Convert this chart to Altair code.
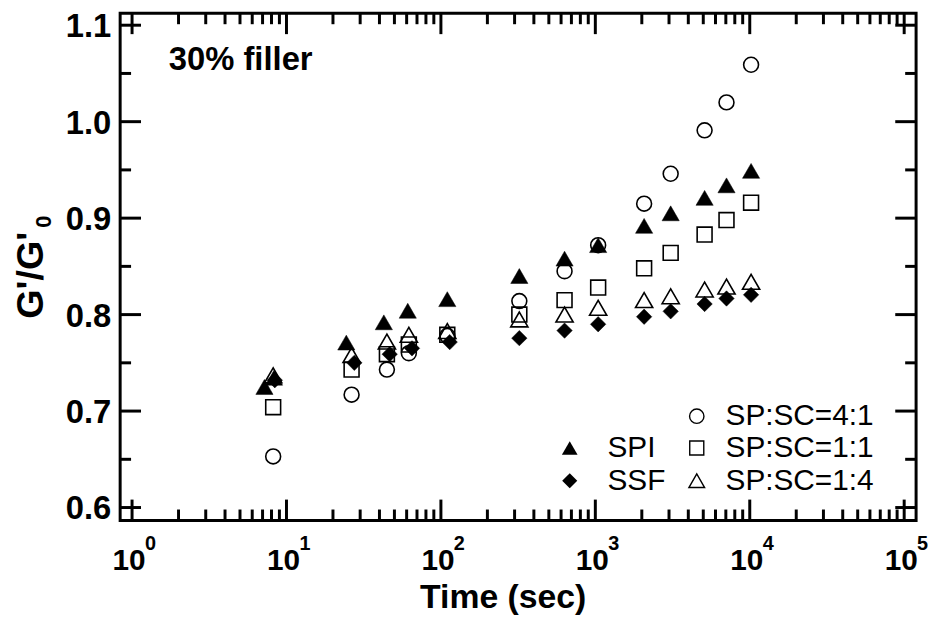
import altair as alt
import pandas as pd

# ---- data ----
spi_t = [7.2, 8.3, 24.4, 42.7, 61, 110, 322, 632, 1043, 2070, 3075, 5100, 7070, 10200]
spi_v = [0.725, 0.7345, 0.771, 0.792, 0.804, 0.816, 0.840, 0.858, 0.872, 0.892, 0.905, 0.921, 0.934, 0.949]

ssf_t = [8.4, 27.5, 46.6, 65, 114, 322, 632, 1043, 2070, 3075, 5100, 7070, 10200]
ssf_v = [0.732, 0.750, 0.759, 0.765, 0.7715, 0.7756, 0.7834, 0.790, 0.7978, 0.8034, 0.811, 0.8167, 0.8205]

sc41_t = [8.2, 26.4, 44.7, 62, 110, 322, 632, 1043, 2070, 3075, 5100, 7070, 10200]
sc41_v = [0.653, 0.717, 0.743, 0.760, 0.778, 0.814, 0.845, 0.872, 0.915, 0.946, 0.991, 1.020, 1.059]

sc11_t = [8.2, 26.4, 44.7, 62, 110, 322, 632, 1043, 2070, 3075, 5100, 7070, 10200]
sc11_v = [0.704, 0.743, 0.759, 0.769, 0.779, 0.800, 0.815, 0.828, 0.848, 0.864, 0.883, 0.898, 0.916]

sc14_t = [8.2, 26.4, 44.7, 62, 110, 322, 632, 1043, 2070, 3075, 5100, 7070, 10200]
sc14_v = [0.737, 0.758, 0.772, 0.779, 0.783, 0.795, 0.800, 0.807, 0.815, 0.819, 0.826, 0.829, 0.834]

x_decades = [1, 10, 100, 1000, 10000, 100000]
x_exponents = ["0", "1", "2", "3", "4", "5"]
x_minor = [m * 10 ** k for k in range(5) for m in range(2, 10)]
y_major = [0.6, 0.7, 0.8, 0.9, 1.0, 1.1]
y_labels = ["0.6", "0.7", "0.8", "0.9", "1.0", "1.1"]
y_minor = [0.65, 0.75, 0.85, 0.95, 1.05]

W, H = 802, 511
XDOM = [10 ** (-12 / 155.6), 10 ** (5 + 12 / 155.6)]
YDOM = [0.6 - 13 / 972, 1.1 + 12 / 972]

FONT = "Liberation Sans, Arial, Helvetica, sans-serif"

xs = alt.Scale(type="log", domain=XDOM, nice=False)
ys = alt.Scale(domain=YDOM, nice=False, zero=False)

def series(t, v, shape, filled, size):
    df = pd.DataFrame({"t": t, "v": v})
    if filled:
        mk = alt.Chart(df).mark_point(shape=shape, filled=True, fill="black",
                                      stroke="black", strokeWidth=0.5, opacity=1, size=size)
    else:
        mk = alt.Chart(df).mark_point(shape=shape, filled=False, fill="white", fillOpacity=0,
                                      stroke="black", strokeWidth=1.6, opacity=1, size=size)
    return mk.encode(x=alt.X("t:Q", scale=xs, axis=None),
                     y=alt.Y("v:Q", scale=ys, axis=None))

def xticks(vals, length, top):
    df = pd.DataFrame({"t": vals})
    if top:
        yy, yy2 = alt.value(0), alt.value(length)
    else:
        yy, yy2 = alt.value(H), alt.value(H - length)
    return alt.Chart(df).mark_rule(color="black", strokeWidth=3).encode(
        x=alt.X("t:Q", scale=xs, axis=None), y=yy, y2=yy2)

def yticks(vals, length, right):
    df = pd.DataFrame({"v": vals})
    if right:
        xx, xx2 = alt.value(W), alt.value(W - length)
    else:
        xx, xx2 = alt.value(0), alt.value(length)
    return alt.Chart(df).mark_rule(color="black", strokeWidth=3).encode(
        y=alt.Y("v:Q", scale=ys, axis=None), x=xx, x2=xx2)

ticks = [
    xticks(x_decades, 21, False), xticks(x_decades, 21, True),
    xticks(x_minor, 11, False), xticks(x_minor, 11, True),
    yticks(y_major, 21, False), yticks(y_major, 21, True),
    yticks(y_minor, 11, False), yticks(y_minor, 11, True),
]

ylab = alt.Chart(pd.DataFrame({"v": y_major, "s": y_labels})).mark_text(
    font=FONT, fontWeight="bold", fontSize=33, align="right", baseline="middle",
    dx=-9, dy=2, color="black").encode(
    x=alt.value(0), y=alt.Y("v:Q", scale=ys, axis=None), text="s:N")

lab_df = pd.DataFrame({"t": x_decades, "e": x_exponents, "b": ["10"] * 6})
xlab_base = alt.Chart(lab_df).mark_text(font=FONT, fontWeight="bold", fontSize=30, align="center",
                                        baseline="alphabetic", dx=-3, color="black").encode(
    x=alt.X("t:Q", scale=xs, axis=None), y=alt.value(561), text="b:N")
xlab_exp = alt.Chart(lab_df).mark_text(font=FONT, fontWeight="bold", fontSize=20, align="left",
                                       baseline="alphabetic", dx=13, color="black").encode(
    x=alt.X("t:Q", scale=xs, axis=None), y=alt.value(541), text="e:N")

def label(text, x, y, size, weight="bold", angle=0, align="left", baseline="middle"):
    return alt.Chart(pd.DataFrame({"s": [text]})).mark_text(
        font=FONT, fontWeight=weight, fontSize=size, align=align, baseline=baseline,
        angle=angle, color="black").encode(x=alt.value(x), y=alt.value(y), text="s:N")

texts = [
    label("Time (sec)", 386, 599, 34, align="center", baseline="alphabetic"),
    label("G'/G'", -78, 264, 38, angle=270, align="center", baseline="alphabetic"),
    label("0", -70, 210, 22, angle=270, align="center", baseline="alphabetic"),
    label("30% filler", 49, 47, 33),
]

def legsym(shape, filled, x, y, size):
    if filled:
        mk = alt.Chart(pd.DataFrame({"a": [0]})).mark_point(shape=shape, filled=True, fill="black",
                                                            opacity=1, size=size)
    else:
        mk = alt.Chart(pd.DataFrame({"a": [0]})).mark_point(shape=shape, filled=False, stroke="black",
                                                            strokeWidth=1.4, opacity=1, size=size)
    return mk.encode(x=alt.value(x), y=alt.value(y))

legend = [
    legsym("triangle-up", True, 453, 438, 250), label("SPI", 491, 438, 30, weight="normal"),
    legsym("diamond", True, 453, 471, 230), label("SSF", 491, 471, 30, weight="normal"),
    legsym("circle", False, 581, 406, 210), label("SP:SC=4:1", 610, 406, 30, weight="normal"),
    legsym("square", False, 581, 438, 200), label("SP:SC=1:1", 610, 438, 30, weight="normal"),
    legsym("triangle-up", False, 581, 471, 250), label("SP:SC=1:4", 610, 471, 30, weight="normal"),
]

pts = [
    series(sc41_t, sc41_v, "circle", False, 225),
    series(sc11_t, sc11_v, "square", False, 225),
    series(sc14_t, sc14_v, "triangle-up", False, 300),
    series(spi_t, spi_v, "triangle-up", True, 300),
    series(ssf_t, ssf_v, "diamond", True, 240),
]

chart = alt.layer(*ticks, *pts, ylab, xlab_base, xlab_exp, *texts, *legend).properties(
    width=W, height=H,
    autosize=alt.AutoSizeParams(type="none"),
    padding={"left": 113, "top": 3, "right": 12, "bottom": 100},
).configure_view(stroke="black", strokeWidth=3)

chart.save("out.html", embed_options={"renderer": "svg", "actions": False})
